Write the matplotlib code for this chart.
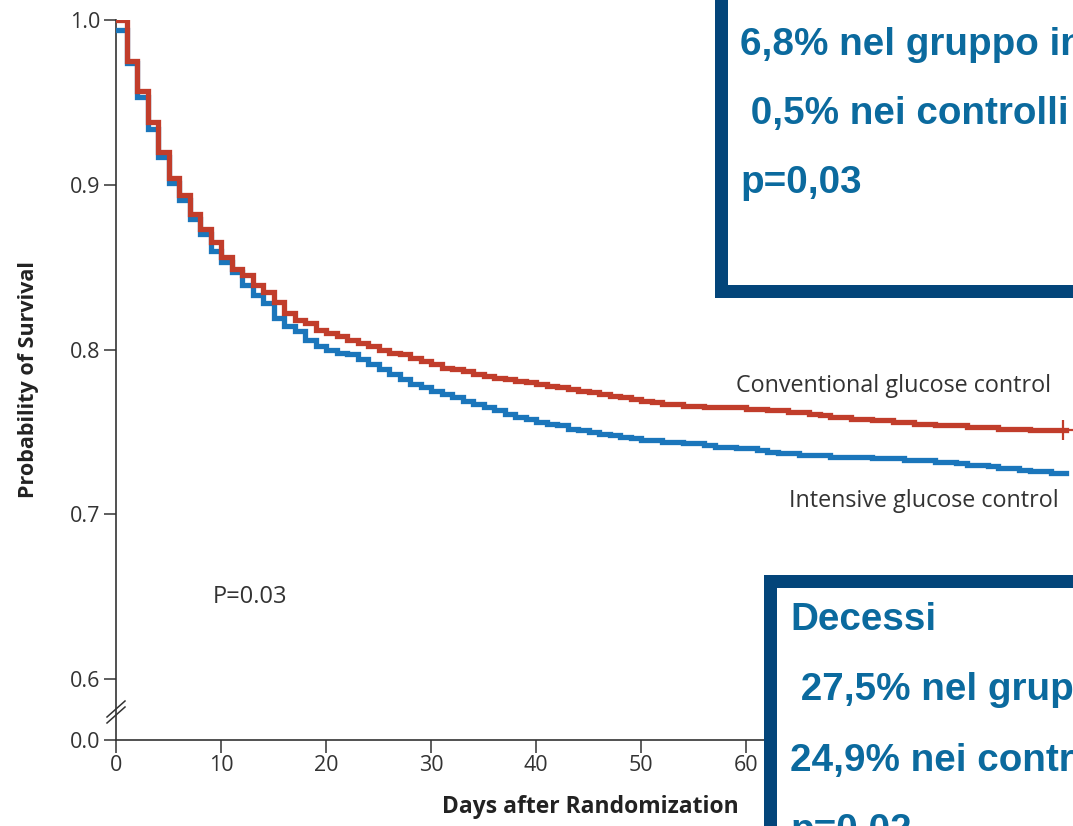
import numpy as np
import matplotlib
matplotlib.use("Agg")
import matplotlib.pyplot as plt
from matplotlib.patches import Rectangle

# ---------------- data ----------------
days = list(range(0, 91))
follow_up_end = 90.5

conventional = [
    1.000, 0.975, 0.957, 0.938, 0.920, 0.904, 0.894, 0.882, 0.873, 0.865,
    0.856, 0.849, 0.845, 0.839, 0.835, 0.829, 0.822, 0.818, 0.816, 0.812,
    0.810, 0.808, 0.806, 0.804, 0.802, 0.800, 0.798, 0.797, 0.795, 0.793,
    0.791, 0.789, 0.788, 0.787, 0.785, 0.784, 0.783, 0.782, 0.781, 0.780,
    0.779, 0.778, 0.777, 0.776, 0.775, 0.774, 0.773, 0.772, 0.771, 0.770,
    0.769, 0.768, 0.767, 0.767, 0.766, 0.766, 0.765, 0.765, 0.765, 0.765,
    0.764, 0.764, 0.763, 0.763, 0.762, 0.762, 0.761, 0.760, 0.759, 0.759,
    0.758, 0.758, 0.757, 0.757, 0.756, 0.756, 0.755, 0.755, 0.754, 0.754,
    0.754, 0.753, 0.753, 0.753, 0.752, 0.752, 0.752, 0.751, 0.751, 0.751,
    0.751,
]

intensive = [
    0.994, 0.974, 0.953, 0.934, 0.917, 0.901, 0.891, 0.879, 0.870, 0.860,
    0.853, 0.847, 0.839, 0.833, 0.828, 0.819, 0.814, 0.811, 0.806, 0.802,
    0.800, 0.798, 0.797, 0.794, 0.791, 0.788, 0.785, 0.782, 0.779, 0.777,
    0.775, 0.773, 0.771, 0.769, 0.767, 0.765, 0.763, 0.761, 0.759, 0.758,
    0.756, 0.755, 0.754, 0.752, 0.751, 0.750, 0.749, 0.748, 0.747, 0.746,
    0.745, 0.745, 0.744, 0.744, 0.743, 0.743, 0.742, 0.741, 0.741, 0.740,
    0.740, 0.739, 0.738, 0.737, 0.737, 0.736, 0.736, 0.736, 0.735, 0.735,
    0.735, 0.735, 0.734, 0.734, 0.734, 0.733, 0.733, 0.733, 0.732, 0.732,
    0.731, 0.730, 0.730, 0.729, 0.728, 0.728, 0.727, 0.726, 0.726, 0.725,
    0.725,
]

censor_day = 90.2
x_ticks = [0, 10, 20, 30, 40, 50, 60, 70, 80, 90]
x_tick_labels = ["0", "10", "20", "30", "40", "50", "60", "", "", ""]  # 70-90 hidden by the box
y_break_value = 0.563          # where the "0.0" of the broken axis sits
y_ticks = [y_break_value, 0.6, 0.7, 0.8, 0.9, 1.0]
y_tick_labels = ["0.0", "0.6", "0.7", "0.8", "0.9", "1.0"]

label_conv = "Conventional glucose control"
label_int = "Intensive glucose control"
p_text = "P=0.03"

box1_lines = ["6,8% nel gruppo intensivo", " 0,5% nei controlli", "p=0,03"]
box2_lines = ["Decessi", " 27,5% nel gruppo intensivo", "24,9% nei controlli", "p=0,02"]

# ---------------- styling ----------------
RED = "#c13d2b"
BLUE = "#1b76bb"
AX_COL = "#333333"
BOX_EDGE = "#03457a"
BOX_TEXT = "#0b6a9e"
W, H = 1073, 826
SANS = ["Open Sans", "DejaVu Sans"]

fig = plt.figure(figsize=(W / 100, H / 100), dpi=100)
fig.patch.set_facecolor("white")

ax_left, ax_right = 116, 1071.5
ax_top, ax_bottom = 20, 740
ax = fig.add_axes([ax_left / W, 1 - ax_bottom / H,
                   (ax_right - ax_left) / W, (ax_bottom - ax_top) / H])

xs = np.append(days, follow_up_end)
ys_c = np.append(conventional, conventional[-1])
ys_i = np.append(intensive, intensive[-1])

ax.step(xs, ys_i, where="post", color=BLUE, lw=3.8, solid_joinstyle="miter", zorder=3)
ax.step(xs, ys_c, where="post", color=RED, lw=3.8, solid_joinstyle="miter", zorder=4)
ax.plot([censor_day], [conventional[-1]], marker="+", ms=14, mew=1.6, color=RED, zorder=5)

ax.set_xlim(0, 91)
ax.set_ylim(y_break_value, 1.0)
ax.set_xticks(x_ticks)
ax.set_xticklabels(x_tick_labels)
ax.set_yticks(y_ticks)
ax.set_yticklabels(y_tick_labels)

for s in ["top", "right"]:
    ax.spines[s].set_visible(False)
for s in ["left", "bottom"]:
    ax.spines[s].set_color(AX_COL)
    ax.spines[s].set_linewidth(1.2)

ax.tick_params(axis="both", direction="out", length=9, width=1.1, color=AX_COL,
               labelcolor=AX_COL, pad=2)
for lab in ax.get_xticklabels() + ax.get_yticklabels():
    lab.set_fontfamily(SANS)
    lab.set_fontsize(15.5)

ax.set_ylabel("Probability of Survival", fontsize=15.5, fontweight="bold",
              family=SANS, color="#222222")
ax.set_xlabel("Days after Randomization", fontsize=16.5, fontweight="bold",
              family=SANS, color="#222222")
ax.yaxis.set_label_coords((39 - ax_left) / (ax_right - ax_left), 0.5)
ax.xaxis.set_label_coords((590 - ax_left) / (ax_right - ax_left),
                          -(795 - ax_bottom) / (ax_bottom - ax_top))

# axis break marks
trans = fig.transFigure
for yc in (709, 715):
    fig.add_artist(plt.Line2D([(ax_left - 9) / W, (ax_left + 9) / W],
                              [1 - (yc + 8) / H, 1 - (yc - 8) / H],
                              color=AX_COL, lw=1.1, transform=trans))

txt_font = dict(family=SANS, color="#333333")
ax.text(59.0, 0.778, label_conv, fontsize=16.8, va="center", ha="left", **txt_font)
ax.text(64.1, 0.708, label_int, fontsize=16.8, va="center", ha="left", **txt_font)
ax.text(9.2, 0.650, p_text, fontsize=17, va="center", ha="left", **txt_font)

# ---------------- overlay boxes ----------------
bw = 13  # border width in px
fig.add_artist(Rectangle(((714 + bw / 2) / W, 1 - (297 - bw / 2) / H), 0.5, 0.5,
                         facecolor="white", edgecolor=BOX_EDGE, lw=bw * 0.72,
                         transform=trans, zorder=10))
fig.add_artist(Rectangle(((763 + bw / 2) / W, -0.3), 0.5, 0.3 + 1 - (575 + bw / 2) / H,
                         facecolor="white", edgecolor=BOX_EDGE, lw=bw * 0.72,
                         transform=trans, zorder=10))

box_font = dict(family=["Liberation Sans", "DejaVu Sans"], fontweight="bold",
                color=BOX_TEXT, fontsize=27.8, va="baseline", ha="left", zorder=11,
                transform=trans)
for i, line in enumerate(box1_lines):
    fig.text(740 / W, 1 - (55 + 69 * i) / H, line, **box_font)
for i, line in enumerate(box2_lines):
    fig.text(790 / W, 1 - (630 + 70.5 * i) / H, line, **box_font)

fig.savefig("out.png", dpi=100, facecolor="white")
